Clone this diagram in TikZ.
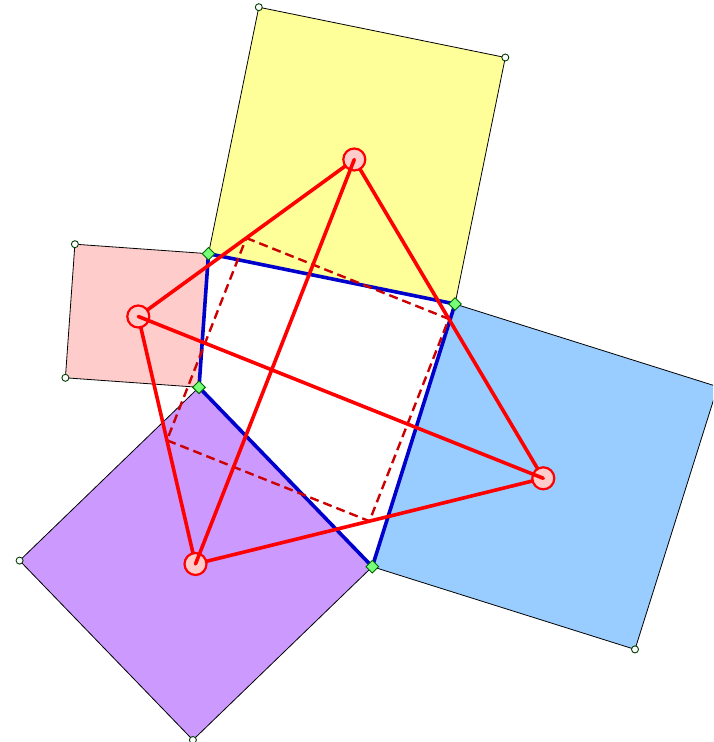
\documentclass[tikz,border=0pt]{standalone}
\usetikzlibrary{shapes.geometric,calc}
\definecolor{sqyellow}{HTML}{FFFF99}
\definecolor{sqpink}{HTML}{FFCCCC}
\definecolor{sqblue}{HTML}{99CCFF}
\definecolor{sqpurple}{HTML}{CC99FF}
\definecolor{quadblue}{HTML}{0000CC}
\definecolor{dashred}{HTML}{CC0000}
\definecolor{ptgreen}{HTML}{77FF77}
\definecolor{ptdark}{HTML}{006600}
\definecolor{ctrfill}{HTML}{FFCCCC}
\tikzset{
  sqside/.style={draw=black, line width=0.8pt},
  quadline/.style={draw=quadblue, line width=3.6pt, line join=round},
  redline/.style={draw=red, line width=3.6pt, line cap=round},
  dashline/.style={draw=dashred, line width=2.4pt, dash pattern=on 9pt off 5pt},
  ctrmark/.style={circle, draw=red, fill=ctrfill, line width=2.2pt, minimum size=22pt, inner sep=0pt},
  vtxmark/.style={diamond, draw=ptdark, fill=ptgreen, line width=0.9pt, minimum width=13pt, minimum height=13pt, inner sep=0pt},
  outmark/.style={circle, draw=ptdark!60!black, fill=white, line width=0.9pt, minimum size=7pt, inner sep=0pt}
}
\begin{document}
\begin{tikzpicture}[x=1pt, y=-1pt]
\clip (0,0) rectangle (713,742);
\fill[white] (0,0) rectangle (713,742);
% quadrilateral vertices
\coordinate (A) at (208.5,253.7);
\coordinate (B) at (455,304);
\coordinate (C) at (372.3,566.7);
\coordinate (D) at (199,387.3);
% outer square vertices
\coordinate (Y1) at (258.8,7.2);
\coordinate (Y2) at (505.3,57.5);
\coordinate (B1) at (717.7,386.7);
\coordinate (B2) at (635,649.4);
\coordinate (U1) at (192.9,740);
\coordinate (U2) at (19.6,560.6);
\coordinate (P1) at (65.4,377.8);
\coordinate (P2) at (74.9,244.2);
% centers
\coordinate (cY) at (354.3,159.5);
\coordinate (cP) at (138.3,316.5);
\coordinate (cB) at (543.3,478.3);
\coordinate (cU) at (195.5,564);
% squares
\path[sqside, fill=sqyellow] (A) -- (Y1) -- (Y2) -- (B) -- cycle;
\path[sqside, fill=sqblue] (B) -- (B1) -- (B2) -- (C) -- cycle;
\path[sqside, fill=sqpurple] (C) -- (U1) -- (U2) -- (D) -- cycle;
\path[sqside, fill=sqpink] (D) -- (P1) -- (P2) -- (A) -- cycle;
% blue quadrilateral
\path[quadline] (A) -- (B) -- (C) -- (D) -- cycle;
% dashed Varignon quadrilateral
\coordinate (m1) at ($(cY)!0.5!(cP)$);
\coordinate (m2) at ($(cY)!0.5!(cB)$);
\coordinate (m3) at ($(cB)!0.5!(cU)$);
\coordinate (m4) at ($(cP)!0.5!(cU)$);
\path[dashline] (m1) -- (m2) -- (m3) -- (m4) -- cycle;
% red sides
\path[redline] (cY) -- (cP) -- (cU) -- (cB) -- cycle;
% center markers
\node[ctrmark] (nY) at (cY) {};
\node[ctrmark] (nP) at (cP) {};
\node[ctrmark] (nB) at (cB) {};
\node[ctrmark] (nU) at (cU) {};
% diagonals
\path[redline] (cY) -- (cU);
\path[redline] (cP) -- (cB);
% vertex markers
\node[vtxmark] (vA) at (A) {};
\node[vtxmark] (vB) at (B) {};
\node[vtxmark] (vC) at (C) {};
\node[vtxmark] (vD) at (D) {};
\foreach \p in {Y1,Y2,B1,B2,U1,U2,P1,P2}{
  \node[outmark] (o\p) at (\p) {};
}
\end{tikzpicture}
\end{document}
